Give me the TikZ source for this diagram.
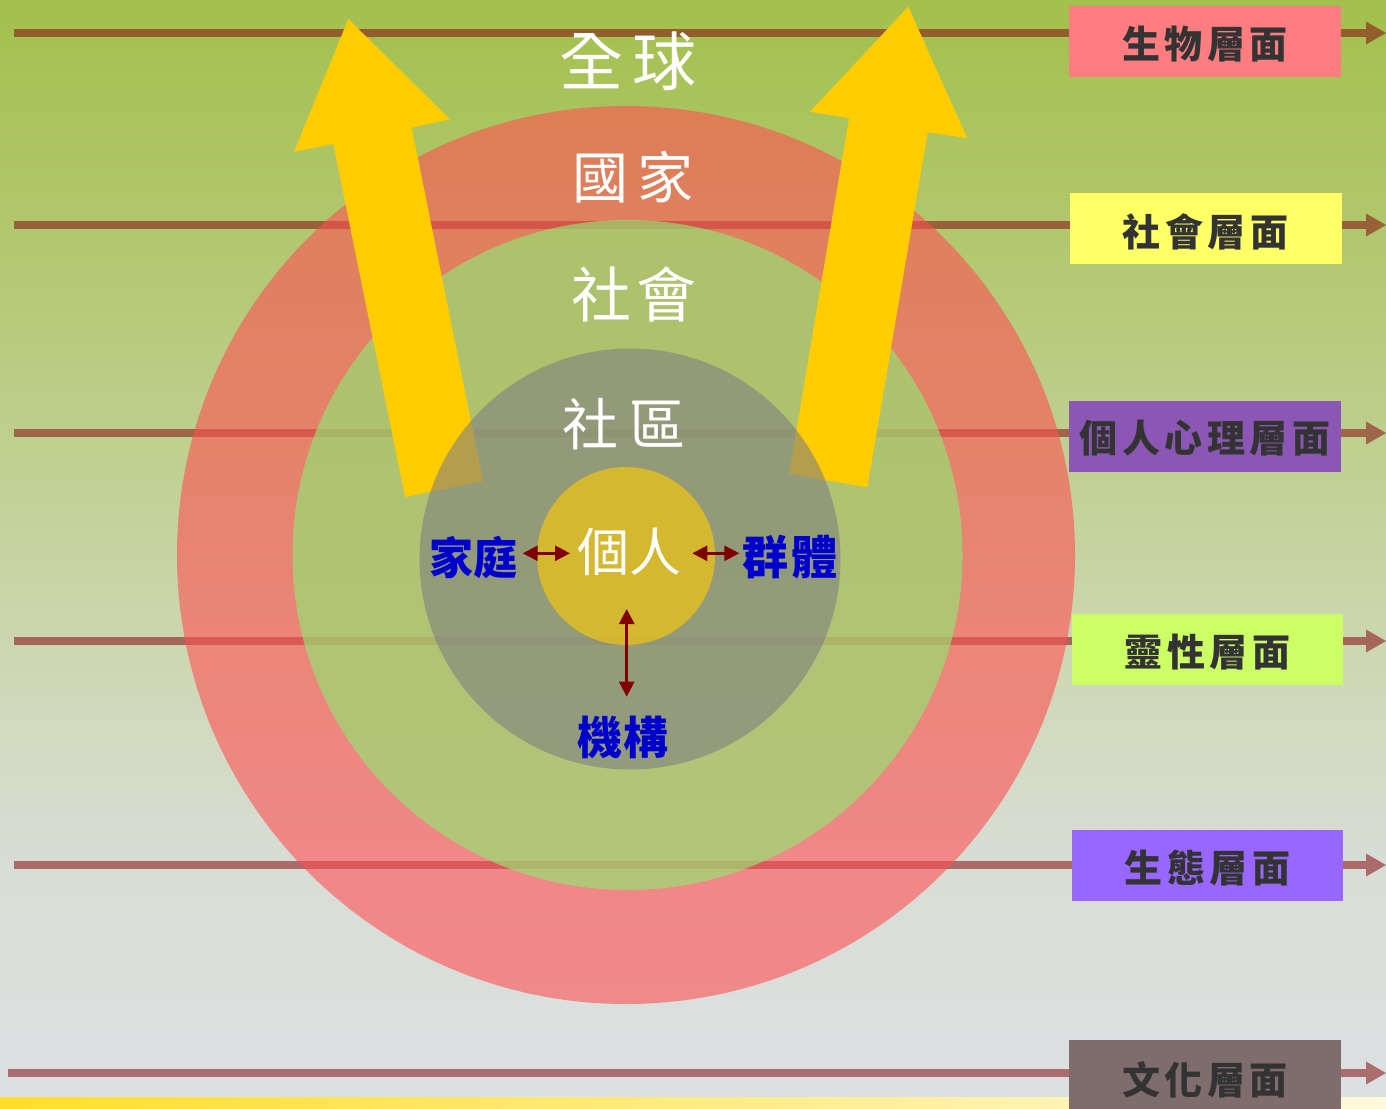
\documentclass[tikz,border=0pt]{standalone}
\usepackage{fontspec}
\newfontfamily\cjk{Noto Sans CJK TC}
\usetikzlibrary{arrows.meta}
\definecolor{bg0}{RGB}{163,192,77}
\definecolor{bg1}{RGB}{181,202,120}
\definecolor{bg2}{RGB}{203,214,172}
\definecolor{bg3}{RGB}{216,221,212}
\definecolor{bg4}{RGB}{221,224,227}
\definecolor{ylL}{RGB}{255,222,40}
\definecolor{ylR}{RGB}{255,249,220}
\definecolor{lnc}{RGB}{131,7,11}
\definecolor{redc}{RGB}{255,80,83}
\definecolor{grnc}{RGB}{146,230,115}
\definecolor{yel}{RGB}{255,204,0}
\definecolor{blu}{RGB}{0,0,204}
\definecolor{dk}{RGB}{51,51,51}
\definecolor{arr}{RGB}{128,0,0}
\definecolor{bxa}{RGB}{255,124,128}
\definecolor{bxb}{RGB}{255,255,102}
\definecolor{bxc}{RGB}{139,86,180}
\definecolor{bxd}{RGB}{204,255,102}
\definecolor{bxe}{RGB}{153,102,255}
\definecolor{bxf}{RGB}{127,108,108}
\begin{document}
\begin{tikzpicture}[x=1pt,y=-1pt,
  layerbox/.style={rectangle, minimum width=272pt, minimum height=71pt, inner sep=0pt},
  boxtext/.style={inner sep=0pt, text=dk,
    font=\cjk\bfseries\fontsize{38}{38}\selectfont\addfontfeature{LetterSpace=12}},
  ringtxt/.style={text=white, inner sep=0pt},
  bluetxt/.style={text=blu, inner sep=0pt},
  levelline/.style={line width=8pt, draw=lnc, opacity=.53},
  levelhead/.style={fill=lnc, opacity=.53},
  darr/.style={draw=arr, line width=2.6pt, {Triangle[length=15pt,width=15pt]}-{Triangle[length=15pt,width=15pt]}}
]
\useasboundingbox (0,0) rectangle (1386,1108);
% background
\shade[top color=bg0, bottom color=bg1] (0,0) rectangle (1386,301);
\shade[top color=bg1, bottom color=bg2] (0,300) rectangle (1386,621);
\shade[top color=bg2, bottom color=bg3] (0,620) rectangle (1386,851);
\shade[top color=bg3, bottom color=bg4] (0,850) rectangle (1386,1108);
\shade[left color=ylL, right color=ylR] (0,1097) rectangle (1386,1108);

% level lines
\foreach \i/\y/\xs in {1/33/14, 2/225/14, 3/433/14, 4/641/14, 5/865/14, 6/1073/8}{
  \coordinate (ls\i) at (\xs,\y);
  \coordinate (lm\i) at (1366,\y);
  \coordinate (le\i) at (1386,\y);
  \draw[levelline] (ls\i) -- (lm\i);
  \fill[levelhead] (le\i) -- ([yshift=11.5pt]lm\i) -- ([yshift=-11.5pt]lm\i) -- cycle;
}

% circles
\coordinate (ctr) at (626,555);
\coordinate (gctr) at (630,559);
\coordinate (yctr) at (626,556);
\fill[redc, opacity=.6] (ctr) circle[radius=449];
\fill[grnc, opacity=.65] (627.5,555) circle[radius=335];

% big yellow arrows
\fill[yel] (348.3,19) -- (450,119.3) -- (411.7,127.7) -- (483,481) -- (405,497) -- (333.3,144) -- (294,151.7) -- cycle;
\fill[yel] (908.3,6.7) -- (967.3,138.3) -- (927.7,132.3) -- (867.3,487.3) -- (789,474) -- (849,118.3) -- (810,111.7) -- cycle;

\fill[gray, opacity=.6] (gctr) circle[radius=210.5];
\fill[yel, opacity=.6] (yctr) circle[radius=89];

% ring labels
\node[ringtxt, font=\cjk\fontsize{64}{64}\selectfont\addfontfeature{LetterSpace=15}] (quanqiu) at (628,61) {全球};
\node[ringtxt, font=\cjk\fontsize{56}{56}\selectfont\addfontfeature{LetterSpace=15}] (guojia) at (633,177) {國家};
\node[ringtxt, font=\cjk\fontsize{60}{60}\selectfont\addfontfeature{LetterSpace=8}] (shehui) at (634,295) {社會};
\node[ringtxt, font=\cjk\fontsize{56}{56}\selectfont\addfontfeature{LetterSpace=21}] (shequ) at (624,424) {社區};
\node[ringtxt, font=\cjk\fontsize{52}{52}\selectfont] (geren) at (629.5,552) {個人};

\node[bluetxt, font=\cjk\bfseries\fontsize{44}{44}\selectfont] (jiating) at (473,557) {家庭};
\node[bluetxt, font=\cjk\bfseries\fontsize{46}{46}\selectfont\addfontfeature{LetterSpace=5}] (qunti) at (790,557) {群體};
\node[bluetxt, font=\cjk\bfseries\fontsize{45}{45}\selectfont\addfontfeature{LetterSpace=3}] (jigou) at (623,737) {機構};

% small double arrows
\coordinate (fa1) at (522.7,553.3);
\coordinate (fa2) at (570,553.3);
\coordinate (ga1) at (692.3,553.3);
\coordinate (ga2) at (739.3,553.3);
\coordinate (ia1) at (626.7,609);
\coordinate (ia2) at (626.7,696.7);
\draw[darr] (fa1) -- (fa2);
\draw[darr] (ga1) -- (ga2);
\draw[darr] (ia1) -- (ia2);

% layer boxes
\node[layerbox, fill=bxa] (bio) at (1205,41.5) {};
\node[layerbox, fill=bxb] (soc) at (1205.5,228.5) {};
\node[layerbox, fill=bxc] (psy) at (1205,436.5) {};
\node[layerbox, fill=bxd, minimum width=271pt] (spi) at (1207.5,649.5) {};
\node[layerbox, fill=bxe, minimum width=271pt] (eco) at (1207.5,865.5) {};
\node[layerbox, fill=bxf] (cul) at (1205,1075.5) {};
\node[boxtext] (biot) at ([yshift=-3pt]bio.center) {生物層面};
\node[boxtext] (soct) at ([yshift=-3pt]soc.center) {社會層面};
\node[boxtext] (psyt) at ([yshift=-2pt]psy.center) {個人心理層面};
\node[boxtext] (spit) at ([yshift=-3pt]spi.center) {靈性層面};
\node[boxtext] (ecot) at ([yshift=-3pt]eco.center) {生態層面};
\node[boxtext] (cult) at ([yshift=-4pt]cul.center) {文化層面};
\end{tikzpicture}
\end{document}
